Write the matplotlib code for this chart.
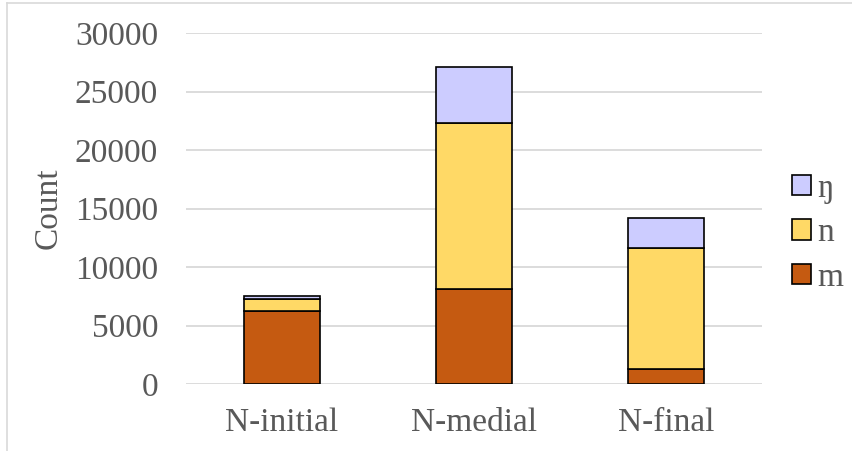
import matplotlib
matplotlib.use("Agg")
import matplotlib.pyplot as plt
from matplotlib.lines import Line2D

categories = ["N-initial", "N-medial", "N-final"]
m_counts = [6250, 8150, 1300]
n_counts = [1050, 14200, 10350]
ng_counts = [200, 4750, 2550]
y_ticks = [0, 5000, 10000, 15000, 20000, 25000, 30000]

plt.rcParams["font.family"] = ["Liberation Serif", "DejaVu Serif"]
text_color = "#595959"
fs = 24

W, H = 852, 451
fig = plt.figure(figsize=(W / 100, H / 100), dpi=100)
ax = fig.add_axes([186 / W, 1 - 384 / H, 576 / W, (384 - 33) / H])

x = range(len(categories))
bw = 0.4
kw = dict(width=bw, edgecolor="black", linewidth=1.2, zorder=3)
ax.bar(x, m_counts, color="#c55a11", label="m", **kw)
ax.bar(x, n_counts, bottom=m_counts, color="#ffd966", label="n", **kw)
bottoms = [a + b for a, b in zip(m_counts, n_counts)]
ax.bar(x, ng_counts, bottom=bottoms, color="#ccccff", label="ŋ", **kw)

ax.set_xlim(-0.5, 2.5)
ax.set_ylim(0, 30000)
ax.set_yticks(y_ticks)
ax.set_xticks(list(x))
ax.set_xticklabels(categories)
ax.tick_params(axis="both", length=0, labelsize=fs, colors=text_color)
ax.tick_params(axis="y", pad=20)
ax.tick_params(axis="x", pad=17)
for s in ax.spines.values():
    s.set_visible(False)
ax.yaxis.grid(True, color="#d9d9d9", linewidth=1.3, zorder=0)
ax.set_axisbelow(True)
ax.set_ylabel("Count", fontsize=fs, color=text_color, labelpad=8)

handles, labels = ax.get_legend_handles_labels()
leg = fig.legend(handles[::-1], labels[::-1], loc="center left",
                 bbox_to_anchor=(792 / W, 1 - 233 / H), frameon=False,
                 fontsize=fs, labelcolor=text_color, handlelength=0.57,
                 handleheight=0.57, handletextpad=0.2, labelspacing=0.42,
                 borderpad=0, borderaxespad=0)

# chart frame
fig.add_artist(Line2D([7 / W, 7 / W], [0, 1 - 3 / H], transform=fig.transFigure,
                      color="#d9d9d9", linewidth=1.2))
fig.add_artist(Line2D([7 / W, 1], [1 - 3 / H, 1 - 3 / H], transform=fig.transFigure,
                      color="#d9d9d9", linewidth=1.2))

fig.savefig("out.png", dpi=100)
